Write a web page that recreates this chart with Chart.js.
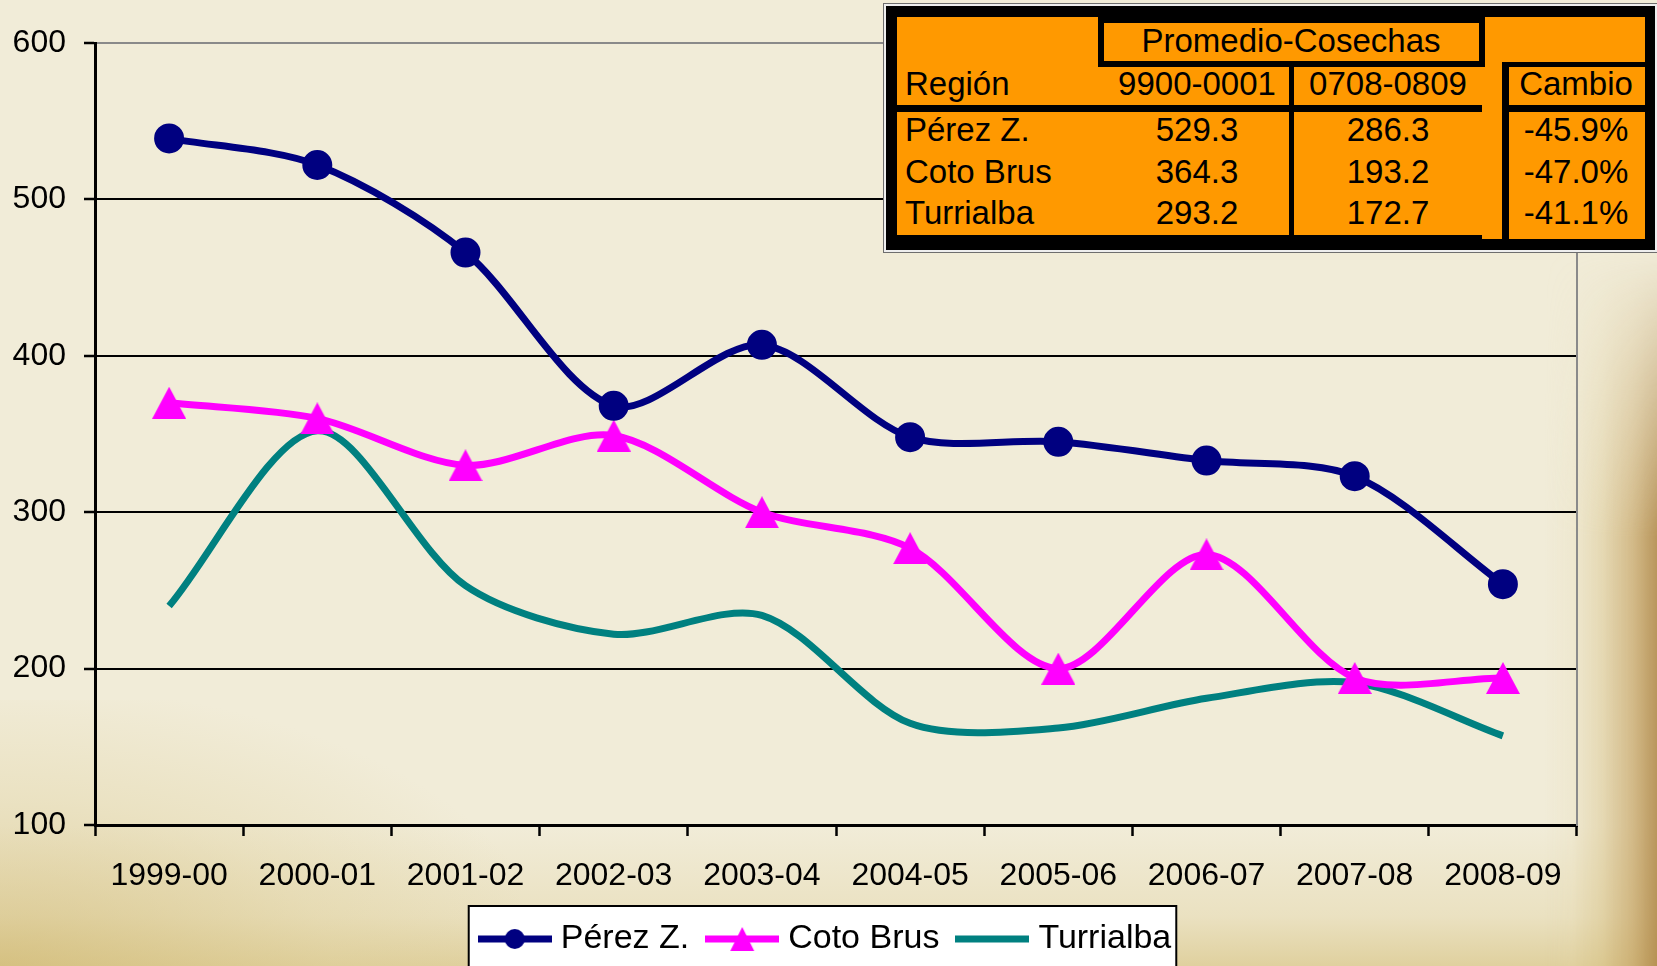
<!DOCTYPE html>
<html>
<head>
<meta charset="utf-8">
<title>Promedio-Cosechas</title>
<script src="https://cdn.jsdelivr.net/npm/chart.js@4"></script>
<style>
  html, body { margin: 0; padding: 0; }
  body {
    width: 1657px; height: 966px; overflow: hidden; position: relative;
    background-color: #f1ecd8;
    font-family: 'Liberation Sans', Arial, sans-serif;
  }
  .bg { position: absolute; pointer-events: none; }
  #bgBottom {
    left: 0; top: 820px; width: 1657px; height: 146px;
    background: linear-gradient(to top, rgba(212,190,120,0.6) 0px, rgba(222,205,150,0.35) 50px, rgba(235,222,180,0) 140px);
  }
  #bgLeft {
    left: 0; top: 700px; width: 520px; height: 266px;
    background: radial-gradient(ellipse at 0% 100%, rgba(205,180,105,0.55) 0%, rgba(220,203,145,0.3) 45%, rgba(240,230,200,0) 75%);
  }
  #bgRight {
    left: 1545px; top: 250px; width: 112px; height: 716px;
    background: linear-gradient(to left, rgba(175,135,70,0.85) 0px, rgba(195,160,95,0.65) 25px, rgba(212,188,125,0.4) 55px, rgba(228,212,165,0.15) 85px, rgba(235,225,190,0) 112px);
    -webkit-mask-image: linear-gradient(to bottom, transparent 0%, black 40%, black 100%);
    mask-image: linear-gradient(to bottom, transparent 0%, black 40%, black 100%);
  }
  #chartBox { position: absolute; left: 0; top: 0; width: 1657px; height: 966px; }
  .t { position: absolute; height: 40px; line-height: 40px; font-size: 33px; color: #000; white-space: nowrap; }
</style>
</head>
<body>
<div class="bg" id="bgBottom"></div>
<div class="bg" id="bgLeft"></div>
<div class="bg" id="bgRight"></div>
<div id="chartBox"><canvas id="myChart"></canvas></div>
<div id="tabla"></div>
<script>
// datos del grafico
var categories = ['1999-00', '2000-01', '2001-02', '2002-03', '2003-04', '2004-05', '2005-06', '2006-07', '2007-08', '2008-09'];
var perezZ    = [539, 522, 466, 368, 407, 348, 345, 333, 323, 254];
var cotoBrus  = [370, 360, 330, 349, 300, 277, 200, 273, 194, 194];
var turrialba = [240, 352, 253, 222, 234, 165, 162, 181, 191, 157];
var yMin = 100, yMax = 600, yStep = 100;

// datos de la tabla
var tablaTitulo = 'Promedio-Cosechas';
var tablaEncabezados = ['Región', '9900-0001', '0708-0809', 'Cambio'];
var tablaRegiones = ['Pérez Z.', 'Coto Brus', 'Turrialba'];
var promedio9900 = ['529.3', '364.3', '293.2'];
var promedio0708 = ['286.3', '193.2', '172.7'];
var cambio = ['-45.9%', '-47.0%', '-41.1%'];

var fontFamily = "'Liberation Sans', Arial, sans-serif";
var colors = { perez: '#000080', coto: '#ff00ff', turri: '#008080' };

// marcador triangulo (un poco mas alto que equilatero, como en Excel)
function makeTriangle(w, h, color) {
    var c = document.createElement('canvas');
    c.width = w; c.height = h;
    var ctx = c.getContext('2d');
    ctx.fillStyle = color;
    ctx.beginPath();
    ctx.moveTo(w / 2, 0);
    ctx.lineTo(w, h);
    ctx.lineTo(0, h);
    ctx.closePath();
    ctx.fill();
    return c;
}

// icono de la leyenda: linea + marcador
function makeLegendIcon(color, marker) {
    var c = document.createElement('canvas');
    c.width = 74; c.height = 30;
    var ctx = c.getContext('2d');
    ctx.strokeStyle = color;
    ctx.lineWidth = 7;
    ctx.beginPath();
    ctx.moveTo(0, 15);
    ctx.lineTo(74, 15);
    ctx.stroke();
    ctx.fillStyle = color;
    if (marker === 'circle') {
        ctx.beginPath();
        ctx.arc(37, 15, 10, 0, Math.PI * 2);
        ctx.fill();
    } else if (marker === 'triangle') {
        ctx.beginPath();
        ctx.moveTo(37, 3);
        ctx.lineTo(49, 27);
        ctx.lineTo(25, 27);
        ctx.closePath();
        ctx.fill();
    }
    return c;
}

var legendIcons = [
    makeLegendIcon(colors.perez, 'circle'),
    makeLegendIcon(colors.coto, 'triangle'),
    makeLegendIcon(colors.turri, 'none')
];

var chartPlugin = {
    id: 'cuadroLeyenda',
    beforeDraw: function (chart) {
        var lg = chart.legend;
        if (!lg || !lg.legendHitBoxes || !lg.legendHitBoxes.length) return;
        var hb = lg.legendHitBoxes;
        var last = hb[hb.length - 1];
        var left = hb[0].left - 17;
        var right = last.left + last.width + 5;
        var top = lg.top + 8;
        var ctx = chart.ctx;
        ctx.save();
        ctx.fillStyle = '#ffffff';
        ctx.fillRect(left, top, right - left, chart.height - top + 20);
        ctx.strokeStyle = '#000';
        ctx.lineWidth = 2;
        ctx.strokeRect(left, top, right - left, chart.height - top + 20);
        ctx.restore();
    }
};

var chart;
function InitChart() {
    var ctxChart = document.getElementById('myChart').getContext('2d');
    chart = new Chart(ctxChart, {
        type: 'line',
        data: {
            labels: categories,
            datasets: [{
                label: 'Pérez Z.',
                data: perezZ,
                borderColor: colors.perez,
                backgroundColor: colors.perez,
                borderWidth: 7,
                pointStyle: 'circle',
                pointRadius: 14,
                pointBorderWidth: 2,
                tension: 0.3
            }, {
                label: 'Coto Brus',
                data: cotoBrus,
                borderColor: colors.coto,
                backgroundColor: colors.coto,
                borderWidth: 7,
                pointStyle: makeTriangle(34, 32, colors.coto),
                pointRadius: 16,
                tension: 0.3
            }, {
                label: 'Turrialba',
                data: turrialba,
                borderColor: colors.turri,
                backgroundColor: colors.turri,
                borderWidth: 7,
                pointRadius: 0,
                tension: 0.3
            }]
        },
        options: {
            responsive: true,
            maintainAspectRatio: false,
            animation: false,
            layout: { padding: { left: 0, right: 0, top: 43, bottom: 0 } },
            plugins: {
                tooltip: { enabled: false },
                legend: {
                    position: 'bottom',
                    labels: {
                        usePointStyle: true,
                        pointStyleWidth: 58,
                        padding: 24,
                        color: '#000',
                        font: { size: 34, family: fontFamily },
                        generateLabels: function (c) {
                            return c.data.datasets.map(function (ds, i) {
                                return {
                                    text: ds.label,
                                    pointStyle: legendIcons[i],
                                    fillStyle: ds.borderColor,
                                    strokeStyle: ds.borderColor,
                                    lineWidth: 0,
                                    hidden: false,
                                    datasetIndex: i,
                                    fontColor: '#000'
                                };
                            });
                        }
                    }
                }
            },
            scales: {
                x: {
                    offset: true,
                    grid: {
                        offset: true,
                        drawOnChartArea: false,
                        drawTicks: true,
                        tickLength: 11,
                        tickColor: '#000',
                        tickWidth: 2.5
                    },
                    border: { color: '#000', width: 3 },
                    ticks: {
                        color: '#000',
                        font: { size: 32, family: fontFamily },
                        padding: 21,
                        maxRotation: 0,
                        autoSkip: false
                    },
                    afterFit: function (s) { s.height = 73; }
                },
                y: {
                    min: yMin,
                    max: yMax,
                    ticks: {
                        stepSize: yStep,
                        color: '#000',
                        font: { size: 32, family: fontFamily },
                        padding: 18
                    },
                    grid: {
                        color: function (ctx) { return ctx.tick && ctx.tick.value === yMax ? '#8a8a8a' : '#000'; },
                        lineWidth: 2,
                        tickLength: 11,
                        tickColor: '#000',
                        tickWidth: 2.5
                    },
                    border: { color: '#000', width: 3 },
                    afterFit: function (s) { s.width = 95; }
                },
                y2: {
                    position: 'right',
                    min: yMin,
                    max: yMax,
                    ticks: { display: false },
                    grid: { drawOnChartArea: false, drawTicks: false },
                    border: { color: '#8a8a8a', width: 2 },
                    afterFit: function (s) { s.width = 80; }
                }
            }
        },
        plugins: [chartPlugin]
    });
}

// tabla superpuesta (texto real en HTML)
function caja(x, y, w, h, css) {
    var d = document.createElement('div');
    d.style.position = 'absolute';
    d.style.left = x + 'px';
    d.style.top = y + 'px';
    d.style.width = w + 'px';
    d.style.height = h + 'px';
    for (var k in css) d.style[k] = css[k];
    document.getElementById('tabla').appendChild(d);
    return d;
}
function texto(str, x, yc, align) {
    var d = document.createElement('div');
    d.className = 't';
    d.textContent = str;
    d.style.top = (yc - 20) + 'px';
    if (align === 'left') {
        d.style.left = x + 'px';
    } else {
        d.style.left = (x - 150) + 'px';
        d.style.width = '300px';
        d.style.textAlign = 'center';
    }
    document.getElementById('tabla').appendChild(d);
}

function InitTabla() {
    var naranja = '#ff9900';
    caja(886, 6, 769, 244, { background: '#000', boxShadow: '0 0 0 2px #eeeeee, 0 0 0 3px #6e6e6e' });
    caja(897, 17, 748, 222, { background: naranja });
    caja(897, 235, 585, 4, { background: '#000' });
    caja(1098, 17, 387, 50, { background: naranja, border: '6px solid #000', boxSizing: 'border-box' });
    caja(1289, 67, 5, 168, { background: '#000' });
    caja(897, 105, 585, 7, { background: '#000' });
    caja(1502, 62, 7, 177, { background: '#000' });
    caja(1502, 62, 143, 5, { background: '#000' });
    caja(1502, 105, 143, 7, { background: '#000' });

    texto(tablaTitulo, 1291, 41);
    texto(tablaEncabezados[0], 905, 84, 'left');
    texto(tablaEncabezados[1], 1197, 84);
    texto(tablaEncabezados[2], 1388, 84);
    texto(tablaEncabezados[3], 1576, 84);
    var filas = [130, 172, 213];
    for (var i = 0; i < tablaRegiones.length; i++) {
        texto(tablaRegiones[i], 905, filas[i], 'left');
        texto(promedio9900[i], 1197, filas[i]);
        texto(promedio0708[i], 1388, filas[i]);
        texto(cambio[i], 1576, filas[i]);
    }
}

InitChart();
InitTabla();
</script>
</body>
</html>
